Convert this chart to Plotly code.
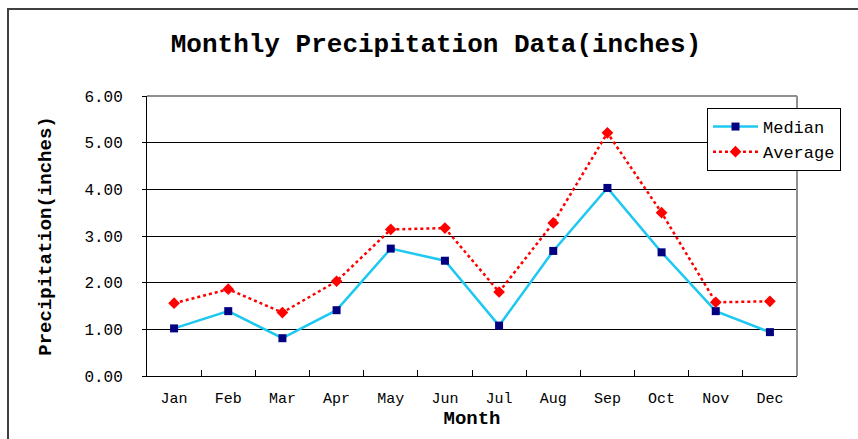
import plotly.graph_objects as go

months = ["Jan", "Feb", "Mar", "Apr", "May", "Jun", "Jul", "Aug", "Sep", "Oct", "Nov", "Dec"]
median = [1.02, 1.39, 0.81, 1.41, 2.73, 2.47, 1.08, 2.68, 4.03, 2.65, 1.39, 0.94]
average = [1.56, 1.86, 1.36, 2.03, 3.14, 3.17, 1.80, 3.28, 5.21, 3.50, 1.58, 1.60]
y_ticks = [0, 1, 2, 3, 4, 5, 6]
y_tick_text = ["0.00", "1.00", "2.00", "3.00", "4.00", "5.00", "6.00"]

MONO = "Liberation Mono, Courier New, monospace"

fig = go.Figure()
fig.add_trace(go.Scatter(
    x=months, y=median, name="Median", mode="lines+markers",
    line=dict(color="#1EC8F0", width=2.5),
    marker=dict(symbol="square", color="#000080", size=8),
))
fig.add_trace(go.Scatter(
    x=months, y=average, name="Average", mode="lines+markers",
    line=dict(color="#FF0000", width=2.5, dash="dot"),
    marker=dict(symbol="diamond", color="#FF0000", size=9),
))

fig.update_layout(
    width=858, height=439,
    margin=dict(l=147, r=61, t=96, b=63),
    paper_bgcolor="white", plot_bgcolor="white",
    title=dict(text="Monthly Precipitation Data(inches)", x=436/858, xanchor="center",
               y=1 - 43/439, yanchor="middle",
               font=dict(family=MONO, size=26, color="black", weight=600)),
    font=dict(family=MONO, color="black"),
    showlegend=True,
    legend=dict(x=(707 - 147) / 650, y=(376 - 108) / 280, xanchor="left", yanchor="top",
                bgcolor="white", bordercolor="black", borderwidth=1,
                font=dict(family=MONO, size=17, color="black"),
                tracegroupgap=0, itemwidth=45),
    xaxis=dict(
        type="category", showline=True, linecolor="black", linewidth=1,
        ticks="inside", tickson="boundaries", ticklen=6, tickcolor="black",
        ticklabelstandoff=8,
        tickfont=dict(family=MONO, size=15, color="black"),
        showgrid=False, range=[-0.5, 11.5], automargin=False,
        title=dict(text="<b>Month</b>", font=dict(family=MONO, size=19, color="black"), standoff=2),
    ),
    yaxis=dict(
        range=[0, 6], tickvals=y_ticks, ticktext=y_tick_text,
        showline=True, linecolor="black", linewidth=1,
        ticks="outside", ticklen=4, tickcolor="black", ticklabelstandoff=16,
        tickfont=dict(family=MONO, size=16, color="black"),
        showgrid=True, gridcolor="black", gridwidth=1, zeroline=False, automargin=False,
        title=dict(text="<b>Precipitation(inches)</b>", font=dict(family=MONO, size=19, color="black"), standoff=27),
    ),
    shapes=[
        dict(type="line", xref="paper", yref="paper", x0=0, x1=1, y0=1, y1=1,
             line=dict(color="#909090", width=2), layer="above"),
        dict(type="line", xref="paper", yref="paper", x0=1, x1=1, y0=0, y1=1,
             line=dict(color="#909090", width=2), layer="above"),
        dict(type="rect", xref="paper", yref="paper", x0=(8 - 147) / 650, x1=1.25,
             y0=-0.3, y1=(376 - 9) / 280, line=dict(color="#404040", width=2), layer="below"),
    ],
)

fig.write_html("out.html", config={"displayModeBar": False},
               post_script="document.body.style.margin='0';")
